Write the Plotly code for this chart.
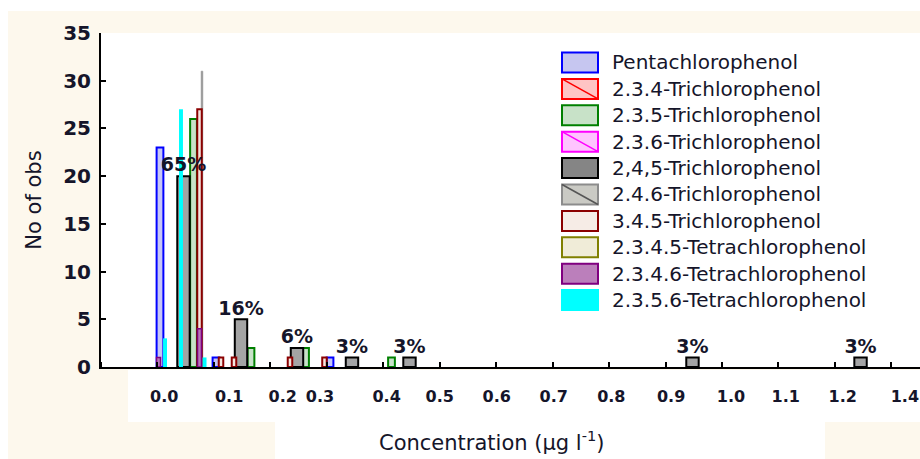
import plotly.graph_objects as go

# ---- data: bin position (tick-index units along the concentration axis) and counts ----
series_names = [
    "Pentachlorophenol",
    "2.3.4-Trichlorophenol",
    "2.3.5-Trichlorophenol",
    "2.3.6-Trichlorophenol",
    "2,4,5-Trichlorophenol",
    "2.4.6-Trichlorophenol",
    "3.4.5-Trichlorophenol",
    "2.3.4.5-Tetrachlorophenol",
    "2.3.4.6-Tetrachlorophenol",
    "2.3.5.6-Tetrachlorophenol",
]

penta_bin = [1.045, 2.037, 4.057]
penta_n = [23, 1, 1]

tcp234_bin = []
tcp234_n = []

tcp235_bin = [1.639, 2.657, 3.623, 5.146]
tcp235_n = [26, 2, 2, 1]

tcp236_bin = []
tcp236_n = []

tcp245_bin = [1.461, 2.480, 3.472, 4.446, 5.465, 10.478, 13.455]
tcp245_n = [20, 5, 2, 1, 1, 1, 1]

tcp246_bin = [1.789]
tcp246_n = [31]

tcp345_bin = [1.745, 2.126, 2.356, 3.348, 3.959]
tcp345_n = [27, 1, 1, 1, 1]

tecp2345_bin = []
tecp2345_n = []

tecp2346_bin = [1.745, 1.019]
tecp2346_n = [4, 1]

tecp2356_bin = [1.134, 1.417, 1.834]
tecp2356_n = [3, 27, 1]

# concentration tick labels and where they sit along the axis
conc_labels = ["0.0", "0.1", "0.2", "0.3", "0.4", "0.5", "0.6", "0.7",
               "0.8", "0.9", "1.0", "1.1", "1.2", "1.4"]
conc_label_pos = [1.12, 2.27, 3.22, 3.88, 5.06, 6.00, 7.01, 8.02,
                  9.04, 10.10, 11.16, 12.13, 13.14, 14.24]

# ---- styles ----
CREAM = "#fdf8ed"
INK = "#15152a"
FONT = "DejaVu Sans"

# (outline, fill, bar width, outline width, diagonal)
styles = [
    ("#0000ff", "#c6c6f6", 0.12, 2.0, False),
    ("#ff0000", "#ffc4c4", 0.09, 2.0, True),
    ("#008000", "#c8e2c8", 0.12, 2.0, False),
    ("#ff00ff", "#ffc4ff", 0.09, 2.0, True),
    ("#000000", "#a4a4a4", 0.22, 2.0, False),
    ("#8a8a8a", "#9a9a9a", 0.03, 0.5, True),
    ("#8b0000", "#f4e6de", 0.08, 2.0, False),
    ("#808000", "#f0ecd8", 0.09, 2.0, False),
    ("#800080", "#b77ab7", 0.07, 1.5, False),
    ("#00ffff", "#00ffff", 0.07, 0.0, False),
]
legend_fill = ["#c6c6f0", "#ffc4c4", "#c8e2c8", "#ffc4ff", "#858585",
               "#cacac4", "#f6ece6", "#f0ecd8", "#bb7fbb", "#00ffff"]

bins = [penta_bin, tcp234_bin, tcp235_bin, tcp236_bin, tcp245_bin,
        tcp246_bin, tcp345_bin, tecp2345_bin, tecp2346_bin, tecp2356_bin]
counts = [penta_n, tcp234_n, tcp235_n, tcp236_n, tcp245_n,
          tcp246_n, tcp345_n, tecp2345_n, tecp2346_n, tecp2356_n]

fig = go.Figure()

for name, xb, yn, (edge, fill, w, lw, _) in zip(series_names, bins, counts, styles):
    if not xb:
        continue  # compound never detected above the first bin edge
    fig.add_trace(go.Bar(
        x=xb, y=yn, name=name,
        width=[w] * len(xb),
        marker=dict(color=fill, line=dict(color=edge, width=lw)),
        showlegend=False,
        hovertemplate=name + ": %{y}<extra></extra>",
    ))

# percentage of 2,4,5-trichlorophenol observations per bin
total_245 = sum(tcp245_n)
pct_text = [f"{round(100 * n / total_245)}%" for n in tcp245_n]
fig.add_trace(go.Scatter(
    x=tcp245_bin, y=tcp245_n, mode="text", text=pct_text,
    textposition="top center",
    textfont=dict(family=FONT, size=19, color=INK, weight="bold"),
    cliponaxis=False, showlegend=False, hoverinfo="skip",
))

# ---- layout geometry helpers (pixel -> paper) ----
W, H = 920, 459
ML, MR, MT, MB = 101, 0, 33, 92
PW, PH = W - ML - MR, H - MT - MB


def px_x(px):
    return (px - ML) / PW


def px_y(py):
    return (H - MB - py) / PH


shapes = []
# background panels
for x0, y0, x1, y1 in [(0, 0, 920, 11), (0, 0, 8, 459),
                       (128, 370, 920, 422), (275, 422, 825, 459)]:
    shapes.append(dict(type="rect", xref="paper", yref="paper",
                       x0=px_x(x0), x1=px_x(x1), y0=px_y(y1), y1=px_y(y0),
                       fillcolor="white", line=dict(width=0), layer="below"))

annotations = []
# legend
row0, step = 62.5, 26.4
for i, (name, (edge, _, _, _, diag)) in enumerate(zip(series_names, styles)):
    cy = row0 + step * i
    x0, x1, y0, y1 = 562, 598, cy - 10, cy + 10
    shapes.append(dict(type="rect", xref="paper", yref="paper",
                       x0=px_x(x0), x1=px_x(x1), y0=px_y(y1), y1=px_y(y0),
                       fillcolor=legend_fill[i],
                       line=dict(color=edge if i != 5 else "#8c8c8c", width=2),
                       layer="above"))
    if diag:
        shapes.append(dict(type="line", xref="paper", yref="paper",
                           x0=px_x(x0), x1=px_x(x1), y0=px_y(y0), y1=px_y(y1),
                           line=dict(color=edge if i != 5 else "#555555", width=1.5),
                           layer="above"))
    annotations.append(dict(xref="paper", yref="paper", x=px_x(610), y=px_y(cy),
                            xanchor="left", yanchor="middle", showarrow=False,
                            text=name,
                            font=dict(family=FONT, size=20, color=INK)))

# axis title, centred under the bins
annotations.append(dict(xref="paper", yref="paper", x=px_x(492), y=px_y(441),
                        xanchor="center", yanchor="middle", showarrow=False,
                        text="Concentration (µg l<sup>-1</sup>)",
                        font=dict(family=FONT, size=21, color=INK)))

fig.update_layout(
    width=W, height=H,
    margin=dict(l=ML, r=MR, t=MT, b=MB, pad=0),
    paper_bgcolor=CREAM, plot_bgcolor="white",
    barmode="overlay", showlegend=False,
    font=dict(family=FONT, color=INK),
    shapes=shapes, annotations=annotations,
    xaxis=dict(
        range=[0, PW / 56.45], showgrid=False, zeroline=False,
        showline=True, linecolor="black", linewidth=2,
        tickmode="array", tickvals=conc_label_pos, ticktext=conc_labels,
        ticks="", ticklabelstandoff=14, tickangle=0,
        ticklabeloverflow="allow",
        tickfont=dict(family=FONT, size=16, color=INK, weight="bold"),
        minor=dict(tickmode="linear", tick0=0, dtick=1, ticks="inside",
                   ticklen=5, tickwidth=2, tickcolor="black", showgrid=False),
    ),
    yaxis=dict(
        range=[0, 35], dtick=5, showgrid=False, zeroline=False,
        showline=True, linecolor="black", linewidth=2,
        ticks="inside", ticklen=5, tickwidth=2, tickcolor="black",
        ticklabelstandoff=4,
        tickfont=dict(family=FONT, size=20, color=INK, weight="bold"),
        title=dict(text="No of obs", standoff=16,
                   font=dict(family=FONT, size=21, color=INK)),
    ),
)

fig.write_html("out.html")
